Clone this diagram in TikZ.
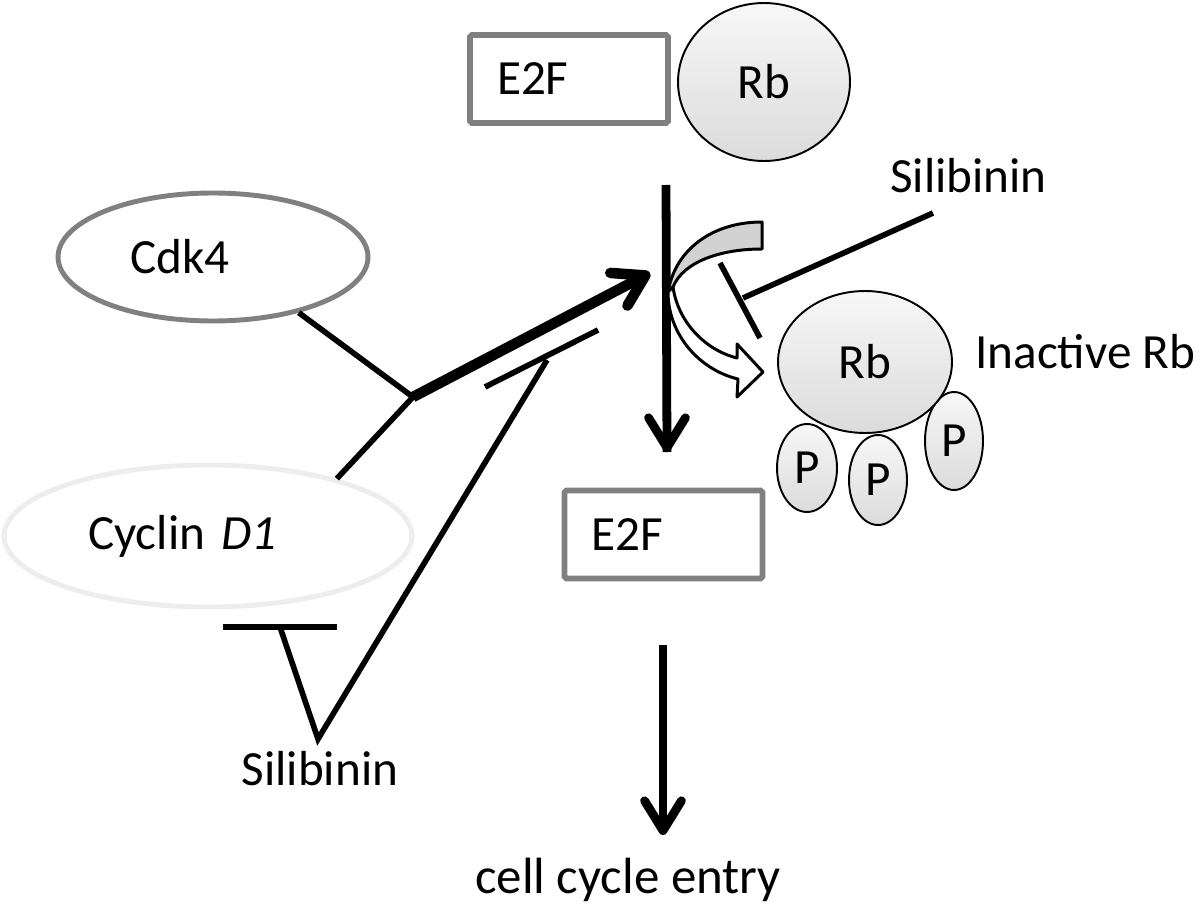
\documentclass[tikz,border=0pt]{standalone}
\usepackage{fontspec}
\setmainfont{Carlito}
\usetikzlibrary{arrows.meta,shapes.geometric,positioning,calc}
\tikzset{% 
  protein box/.style={%
    draw=gray,
    line width=3.2pt,
    rounded corners=1pt,
    text width=2.88cm,
    inner xsep=0.54cm,
    minimum height=1.76cm,
    align=left
  }
}
\tikzset{% 
  protein oval/.style={%
    ellipse,
    line width=2.8pt,
    inner sep=0pt,
    align=left
  }
}
\tikzset{% 
  rb oval/.style={%
    ellipse,
    draw=black,
    line width=1.1pt,
    top color=gray!6,
    bottom color=gray!28,
    inner sep=0pt
  }
}
\tikzset{% 
  activates/.style={%
    line width=5pt,
    -{Straight Barb[length=17pt,width=21pt,round]}
  }
}
\tikzset{% 
  link/.style={%
    line width=3.2pt
  }
}
\tikzset{% 
  ribbon/.style={%
    draw=black,
    line width=1.7pt,
    line join=round
  }
}

\begin{document}
\begin{tikzpicture}[x=0.02cm,y=-0.02cm,font=\fontsize{28}{33}\selectfont]
  \useasboundingbox (0,0) rectangle (1200,909);
  % complex on top
  \node [protein box] (e2f) at (569,79) {E2F};
  \node [rb oval, minimum width=3.44cm, minimum height=3.16cm] (rb) at (764,82) {Rb};
  % cyclin D1 / cdk4
  \node [protein oval, draw=gray, minimum width=6.2cm, minimum height=2.56cm, text width=3.32cm] (cdk) at (213,257) {Cdk4};
  \node [protein oval, draw=black!7, minimum width=8.16cm, minimum height=2.84cm, text width=4.8cm] (cyc) at (208,536) {Cyclin \textit{D1}};
  % phosphorylated Rb
  \node [rb oval, minimum width=1.2cm, minimum height=1.76cm] (p1) at (807,468) {P};
  \node [rb oval, minimum width=1.16cm, minimum height=1.8cm] (p2) at (878,480) {P};
  \node [rb oval, minimum width=1.16cm, minimum height=1.96cm] (p3) at (954,441) {P};
  \node [rb oval, minimum width=3.48cm, minimum height=2.84cm] (rbp) at (865,362) {Rb};
  \node [anchor=base west, inner xsep=0pt] (inact) at (975,368) {Inactive Rb};
  \node [protein box] (e2fm) at (663.5,534.5) {E2F};
  % labels
  \node [anchor=base west, inner xsep=0pt] (sil1) at (890,193) {Silibinin};
  \node [anchor=base] (sil2) at (320,785) {Silibinin};
  \node [anchor=base, font=\fontsize{29}{34}\selectfont] (entry) at (628,893) {cell cycle entry};
  % free ends
  \coordinate (junc) at (413,397);
  \coordinate (hit) at (650,273);
  \coordinate (vtx) at (318,739);
  \coordinate (upA) at (666,185);
  \coordinate (upB) at (667,452);
  \coordinate (dnA) at (663,645);
  \coordinate (dnB) at (663,835);
  % release of E2F
  \draw [line width=5pt] (upA) -- (upB);
  \draw [activates] ($(upB)+(0,-20)$) -- (upB);
  \draw [activates] (dnA) -- (dnB);
  % phosphorylation ribbon
  \filldraw [ribbon, fill=gray!35] (762,222) .. controls (712,222) and (675,250) .. (668,292) -- (673,287) .. controls (683,262) and (720,249) .. (762,249) -- cycle;
  \filldraw [ribbon, fill=white] (668,292) .. controls (668,335) and (700,370) .. (738,379) -- (737,397) -- (763,372) -- (737,344) -- (737,358) .. controls (705,350) and (678,322) .. (673,287) -- cycle;
  % cdk4 / cyclin D1 complex
  \draw [link] (cdk.-33) -- (junc);
  \draw [link] (cyc.24) -- (junc);
  \draw [activates, line width=6pt] (junc) -- (hit);
  % silibinin blocks
  \draw [link] (223,627) -- (337,627);
  \draw [link] (280,627) -- (vtx) -- (547,360);
  \draw [link] (485,387) -- (598,330);
  \draw [link] (933,213) -- (743,298);
  \draw [link] (720,263) -- (760,338);
\end{tikzpicture}
\end{document}
